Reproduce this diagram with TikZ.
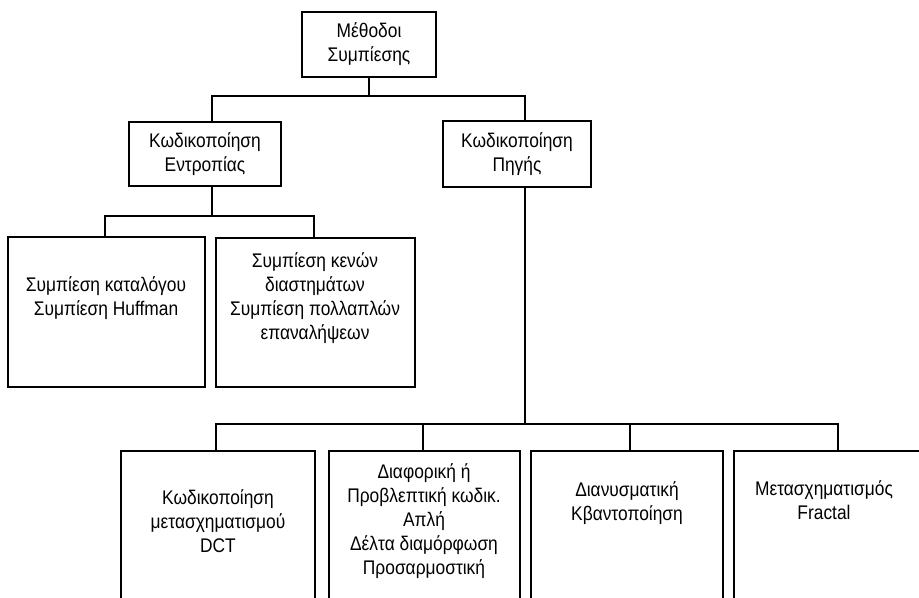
\documentclass[tikz,border=0pt]{standalone}
\usepackage{fontspec}
\setmainfont[FakeStretch=0.88]{Liberation Sans}
\usetikzlibrary{calc}

\begin{document}
\begin{tikzpicture}[
  x=0.75pt, y=-0.75pt,
  font=\fontsize{14.8}{18}\selectfont,
  catbox/.style={draw, line width=1.4pt, inner sep=0pt, align=center},
  leafbox/.style={draw, line width=1.4pt, inner sep=0pt},
  leaftext/.style={align=center, inner sep=0pt},
  tree/.style={line width=1.4pt}
]
\useasboundingbox (0,0) rectangle (919,598);
\clip (0,0) rectangle (919,598);

% top and first level
\node[catbox, minimum width=100.5pt, minimum height=48.75pt] (root) at (369,44.5) {Μέθοδοι\\Συμπίεσης};
\node[catbox, minimum width=114pt, minimum height=48pt] (entropy) at (205,154) {Κωδικοποίηση\\Εντροπίας};
\node[catbox, minimum width=111pt, minimum height=49.5pt] (source) at (517,154) {Κωδικοποίηση\\Πηγής};

% entropy coding leaves
\node[leafbox, minimum width=147.75pt, minimum height=112.5pt] (b1) at (106.5,312) {};
\node[leafbox, minimum width=149.25pt, minimum height=111.75pt] (b2) at (315.5,312.5) {};
\node[leaftext] (t1) at (106,298) {Συμπίεση καταλόγου\\Συμπίεση Huffman};
\node[leaftext] (t2) at (315,298) {Συμπίεση κενών\\διαστημάτων\\Συμπίεση πολλαπλών\\επαναλήψεων};

% source coding leaves (cut by the lower edge)
\node[leafbox, minimum width=145.5pt, minimum height=141.75pt] (b3) at (218,545.5) {};
\node[leafbox, minimum width=143.25pt, minimum height=141.75pt] (b4) at (424.5,545.5) {};
\node[leafbox, minimum width=144pt, minimum height=141.75pt] (b5) at (627,545.5) {};
\node[leafbox, minimum width=156pt, minimum height=141.75pt] (b6) at (838,545.5) {};
\node[leaftext] (t3) at (218,521) {Κωδικοποίηση\\μετασχηματισμού\\DCT};
\node[leaftext] (t4) at (424,521) {Διαφορική ή\\Προβλεπτική κωδικ.\\Απλή\\Δέλτα διαμόρφωση\\Προσαρμοστική};
\node[leaftext] (t5) at (627,503) {Διανυσματική\\Κβαντοποίηση};
\node[leaftext] (t6) at (824,500) {Μετασχηματισμός\\Fractal};

% connectors
\draw[tree] (root.south) -- ++(0,18) coordinate (busA);
\draw[tree] ($(entropy.north)+(7,0)$) |- (busA) -| ($(source.north)+(8,0)$);

\draw[tree] ($(entropy.south)+(7,0)$) -- ++(0,29) coordinate (busB);
\draw[tree] ($(b1.north)+(-1.5,0)$) |- (busB) -| ($(b2.north)+(-1.5,0)$);

\draw[tree] ($(source.south)+(8,0)$) -- ++(0,236) coordinate (busC);
\draw[tree] ($(b3.north)+(-2,0)$) |- (busC) -| (b6.north);
\draw[tree] ($(b4.north)+(-1.5,0)$) |- (busC);
\draw[tree] ($(b5.north)+(3,0)$) |- (busC);

\end{tikzpicture}
\end{document}
